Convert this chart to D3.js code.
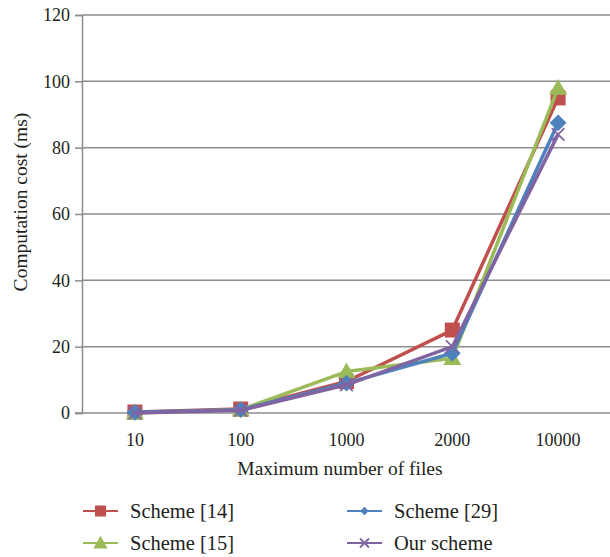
<!DOCTYPE html>
<html>
<head>
<meta charset="utf-8">
<script src="https://cdn.jsdelivr.net/npm/d3@7"></script>
<style>
  body { margin: 0; background: #fff; }
  svg text { font-family: "Liberation Serif", "DejaVu Serif", serif; fill: #231f20; }
</style>
</head>
<body>
<svg id="chart" width="610" height="557"></svg>
<script>
const categories = ["10", "100", "1000", "2000", "10000"];
const yTicks = [0, 20, 40, 60, 80, 100, 120];
const scheme14 = [0.3, 1.2, 9.5, 25, 95];
const scheme15 = [0, 1, 12.5, 16.5, 98];
const scheme29 = [0.2, 1, 9, 18, 87.5];
const ourScheme = [0, 0.8, 8.5, 20, 84];

const series = [
  { name: "Scheme [14]", values: scheme14, color: "#c0504d", symbol: "square" },
  { name: "Scheme [15]", values: scheme15, color: "#9bbb59", symbol: "triangle" },
  { name: "Scheme [29]", values: scheme29, color: "#4f81bd", symbol: "diamond" },
  { name: "Our scheme", values: ourScheme, color: "#8064a2", symbol: "cross" }
];

const svg = d3.select("#chart");
const plot = { left: 82, right: 611, top: 15, bottom: 413 };
const serif = '"Liberation Serif", "DejaVu Serif", serif';

const x = d3.scaleBand().domain(categories).range([plot.left, plot.right]);
const y = d3.scaleLinear().domain([0, 120]).range([plot.bottom, plot.top]);
const cx = c => x(c) + x.bandwidth() / 2;

// horizontal gridlines
svg.append("g").selectAll("line").data(yTicks.filter(t => t > 0)).join("line")
  .attr("x1", plot.left).attr("x2", plot.right)
  .attr("y1", d => y(d)).attr("y2", d => y(d))
  .attr("stroke", "#8c8c8c").attr("stroke-width", 1.5);

// y axis
const yAxis = svg.append("g").attr("transform", `translate(${plot.left},0)`)
  .call(d3.axisLeft(y).tickValues(yTicks).tickSize(7).tickPadding(5));
yAxis.select(".domain").attr("stroke", "#8c8c8c").attr("stroke-width", 1.5);
yAxis.selectAll(".tick line").attr("stroke", "#8c8c8c").attr("stroke-width", 1.5);
yAxis.selectAll("text").attr("font-size", 18).style("font-family", serif).attr("fill", "#231f20");

// x axis
const xAxis = svg.append("g").attr("transform", `translate(0,${plot.bottom})`)
  .call(d3.axisBottom(x).tickSize(0).tickPadding(20));
xAxis.select(".domain").attr("stroke", "#8c8c8c").attr("stroke-width", 1.5)
  .attr("d", `M${plot.left - 7},0H${plot.right}`);
xAxis.selectAll("text").attr("font-size", 18).style("font-family", serif).attr("fill", "#231f20");

// axis titles
svg.append("text").attr("x", 340).attr("y", 475).attr("text-anchor", "middle")
  .attr("font-size", 19.5).style("font-family", serif).text("Maximum number of files");
svg.append("text").attr("transform", "translate(27,202) rotate(-90)")
  .attr("text-anchor", "middle").attr("font-size", 19.5).style("font-family", serif)
  .text("Computation cost (ms)");

function drawMarker(g, symbol, color, size) {
  if (symbol === "square") {
    g.append("rect").attr("x", -size / 2).attr("y", -size / 2)
      .attr("width", size).attr("height", size).attr("fill", color);
  } else if (symbol === "triangle") {
    const h = size;
    g.append("path").attr("d", `M0,${-h * 0.6}L${h * 0.6},${h * 0.45}L${-h * 0.6},${h * 0.45}Z`).attr("fill", color);
  } else if (symbol === "diamond") {
    const s = size * 0.6;
    g.append("path").attr("d", `M0,${-s}L${s},0L0,${s}L${-s},0Z`).attr("fill", color);
  } else {
    const s = size * 0.45;
    g.append("path").attr("d", `M${-s},${-s}L${s},${s}M${-s},${s}L${s},${-s}`)
      .attr("stroke", color).attr("stroke-width", 1.8).attr("fill", "none");
  }
}

const line = d3.line().x((d, i) => cx(categories[i])).y(d => y(d));
const markerSize = { square: 15, triangle: 15, diamond: 14, cross: 14 };

series.forEach(s => {
  const g = svg.append("g");
  g.append("path").datum(s.values).attr("d", line)
    .attr("fill", "none").attr("stroke", s.color).attr("stroke-width", 3.5)
    .attr("stroke-linejoin", "round");
  s.values.forEach((v, i) => {
    const m = g.append("g").attr("transform", `translate(${cx(categories[i])},${y(v)})`);
    drawMarker(m, s.symbol, s.color, markerSize[s.symbol]);
  });
});

// legend
const legendPos = [[83, 511], [83, 543], [347, 511], [347, 543]];
series.forEach((s, k) => {
  const [lx, ly] = legendPos[k];
  const g = svg.append("g").attr("transform", `translate(${lx},${ly})`);
  g.append("line").attr("x1", 0).attr("x2", 35).attr("y1", 0).attr("y2", 0)
    .attr("stroke", s.color).attr("stroke-width", 2.2);
  const m = g.append("g").attr("transform", "translate(17.5,0)");
  const ms = { square: 11, triangle: 12, diamond: 7, cross: 10 }[s.symbol];
  drawMarker(m, s.symbol, s.color, ms);
  g.append("text").attr("x", 47).attr("y", 6.5).attr("font-size", 20.5)
    .style("font-family", serif).text(s.name);
});
</script>
</body>
</html>
